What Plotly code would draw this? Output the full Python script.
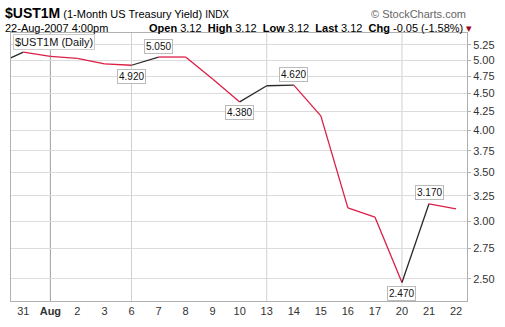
import math
import plotly.graph_objects as go

# ---- data ----
dates = ["Jul 30", "Jul 31", "Aug 1", "Aug 2", "Aug 3", "Aug 6", "Aug 7", "Aug 8", "Aug 9",
         "Aug 10", "Aug 13", "Aug 14", "Aug 15", "Aug 16", "Aug 17", "Aug 20", "Aug 21", "Aug 22"]
tick_labels = ["30", "31", "<b>Aug</b>", "2", "3", "6", "7", "8", "9",
               "10", "13", "14", "15", "16", "17", "20", "21", "22"]
yields = [4.93, 5.13, 5.06, 5.03, 4.94, 4.92, 5.05, 5.05, 4.71,
          4.38, 4.61, 4.62, 4.19, 3.13, 3.04, 2.47, 3.17, 3.12]
labeled_points = {"Aug 6": "below", "Aug 7": "above", "Aug 10": "below",
                  "Aug 14": "above", "Aug 20": "below", "Aug 21": "above"}
week_starts = ["Aug 1", "Aug 6", "Aug 13", "Aug 20"]
y_ticks = [2.50, 2.75, 3.00, 3.25, 3.50, 3.75, 4.00, 4.25, 4.50, 4.75, 5.00, 5.25]

RED = "#dc1e46"
BLACK = "#2a2a2a"
FONT = "Liberation Sans, Arial, sans-serif"

W, H = 505, 327
L, R, T, B = 10, 33, 33, 22
PW, PH = W - L - R, H - T - B


def px(x):
    return (x - L) / PW


def py(y):
    return (H - B - y) / PH


xs = list(range(len(dates)))
fig = go.Figure()

for i in range(len(yields) - 1):
    col = BLACK if yields[i + 1] > yields[i] else RED
    fig.add_trace(go.Scatter(x=[xs[i], xs[i + 1]], y=[yields[i], yields[i + 1]],
                             mode="lines", line=dict(color=col, width=1.3),
                             hoverinfo="skip", showlegend=False))

annotations = []
for d, pos in labeled_points.items():
    i = dates.index(d)
    annotations.append(dict(x=xs[i], y=math.log10(yields[i]), xref="x", yref="y",
                            text=f"{yields[i]:.3f}", showarrow=False,
                            yshift=11 if pos == "above" else -11,
                            font=dict(family=FONT, size=10, color="#111"),
                            bgcolor="white", bordercolor="#bbbbbb", borderwidth=1, borderpad=1))

annotations += [
    dict(x=px(2), y=py(13), xref="paper", yref="paper", xanchor="left", yanchor="middle",
         showarrow=False,
         text="<b><span style='font-size:14px'>$UST1M</span></b> (1-Month US Treasury Yield) <span style='font-size:10px'>INDX</span>",
         font=dict(family=FONT, size=11, color="#000")),
    dict(x=px(2), y=py(28), xref="paper", yref="paper", xanchor="left", yanchor="middle",
         showarrow=False, text="22-Aug-2007 4:00pm", font=dict(family=FONT, size=11, color="#000")),
    dict(x=px(148), y=py(28), xref="paper", yref="paper", xanchor="left", yanchor="middle",
         showarrow=False,
         text="<b>Open</b> 3.12  <b>High</b> 3.12  <b>Low</b> 3.12  <b>Last</b> 3.12  <b>Chg</b> -0.05 (-1.58%) <span style='color:#a00020'>▾</span>",
         font=dict(family=FONT, size=11, color="#000")),
    dict(x=px(473), y=py(14), xref="paper", yref="paper", xanchor="right", yanchor="middle",
         showarrow=False, text="© StockCharts.com", font=dict(family=FONT, size=11, color="#666")),
    dict(x=px(12), y=py(42), xref="paper", yref="paper", xanchor="left", yanchor="middle",
         showarrow=False, text="$UST1M (Daily)", font=dict(family=FONT, size=11, color="#111"),
         bgcolor="white", bordercolor="#cccccc", borderwidth=1, borderpad=1),
]

shapes = []
for d in week_starts:
    i = dates.index(d)
    shapes.append(dict(type="line", xref="x", yref="paper", x0=xs[i], x1=xs[i], y0=0, y1=1,
                       line=dict(color="#a0a0a0" if d == "Aug 1" else "#d0d0d0", width=1),
                       layer="below"))

fig.update_layout(
    width=W, height=H,
    margin=dict(l=L, r=R, t=T, b=B),
    paper_bgcolor="white", plot_bgcolor="white",
    font=dict(family=FONT, size=11, color="#333"),
    annotations=annotations, shapes=shapes,
    xaxis=dict(range=[0.544, 17.405], tickmode="array", tickvals=xs, ticktext=tick_labels,
               showgrid=False, zeroline=False, showline=True, linecolor="#b0b0b0", mirror=True,
               ticks="", tickfont=dict(size=11, color="#333")),
    yaxis=dict(type="log", side="right", range=[math.log10(2.329), math.log10(5.45)],
               tickmode="array", tickvals=y_ticks, ticktext=[f"{v:.2f}" for v in y_ticks],
               showgrid=True, gridcolor="#dcdcdc", gridwidth=1, zeroline=False,
               showline=True, linecolor="#b0b0b0", mirror=True,
               ticks="outside", ticklen=3, tickcolor="#b0b0b0",
               tickfont=dict(size=11, color="#333")),
)

fig.write_html("out.html")
